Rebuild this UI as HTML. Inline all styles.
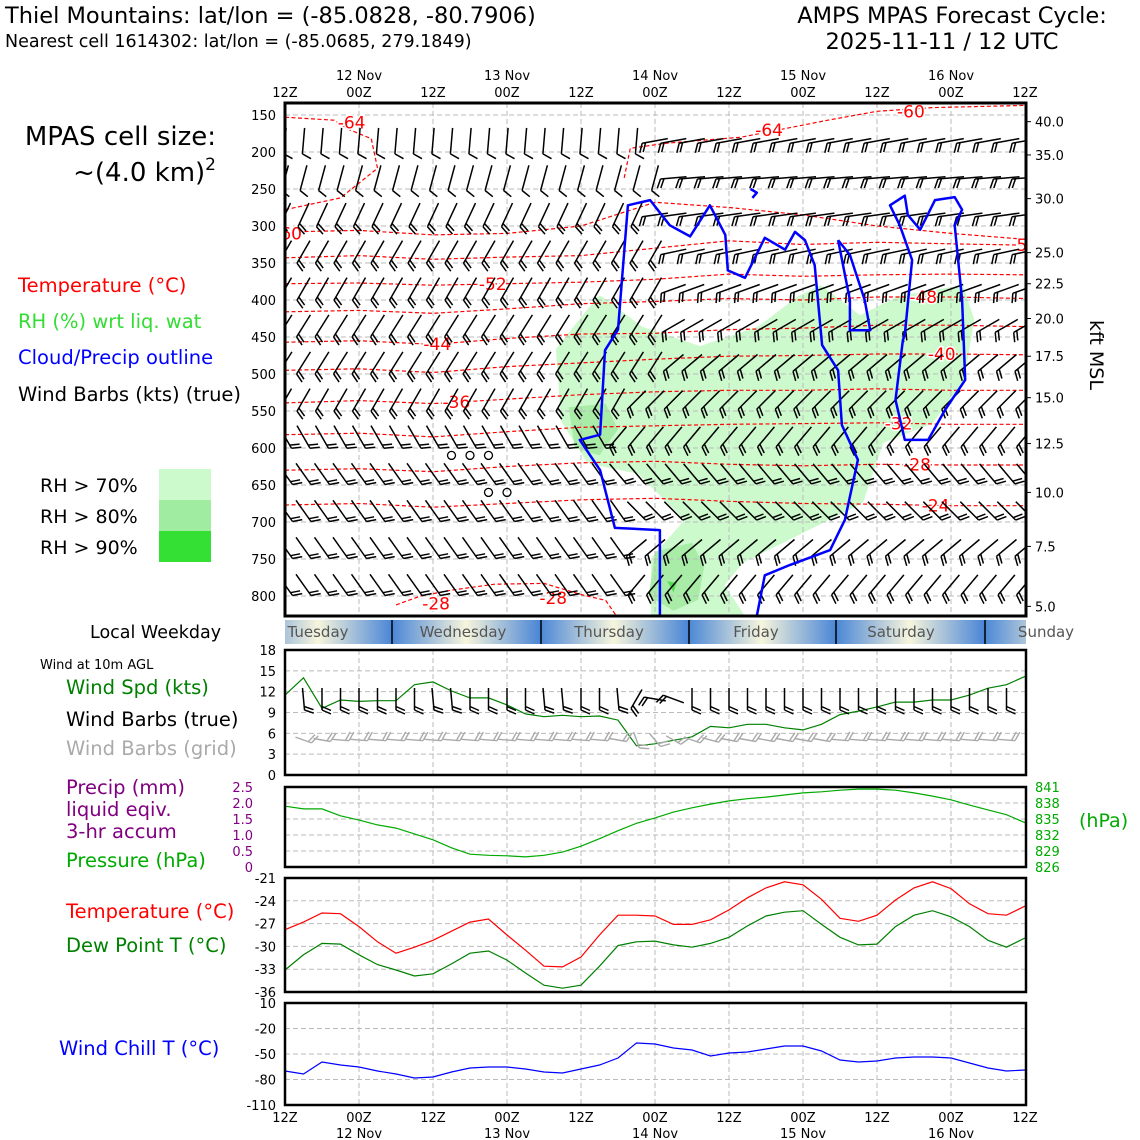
<!DOCTYPE html>
<html><head><meta charset="utf-8"><style>
html,body{margin:0;padding:0;background:#fff;}
svg{display:block;font-family:"DejaVu Sans","Liberation Sans",sans-serif;}
</style></head><body>
<svg id="chart" width="1140" height="1140" viewBox="0 0 1140 1140">
<defs>
<linearGradient id="dayGrad" gradientUnits="userSpaceOnUse" x1="244" y1="0" x2="1100" y2="0">
</linearGradient>
<clipPath id="mainClip"><rect x="285" y="103" width="741" height="513"/></clipPath>
</defs>
<text x="5" y="23" font-size="22.5">Thiel Mountains: lat/lon = (-85.0828, -80.7906)</text>
<text x="5" y="47" font-size="17.5">Nearest cell 1614302: lat/lon = (-85.0685, 279.1849)</text>
<text x="952" y="23" font-size="22.5" text-anchor="middle">AMPS MPAS Forecast Cycle:</text>
<text x="942" y="49" font-size="22.5" text-anchor="middle">2025-11-11 / 12 UTC</text>
<text x="216" y="145" font-size="26" text-anchor="end">MPAS cell size:</text>
<text x="216" y="181" font-size="26" text-anchor="end">~(4.0 km)<tspan font-size="17" dy="-11">2</tspan></text>
<text x="18" y="292" font-size="19.5" fill="#ff0000">Temperature (°C)</text>
<text x="18" y="328" font-size="19.5" fill="#33dd33">RH (%) wrt liq. wat</text>
<text x="18" y="364" font-size="19.5" fill="#0000ff">Cloud/Precip outline</text>
<text x="18" y="401" font-size="19.5" fill="#000">Wind Barbs (kts) (true)</text>
<text x="40" y="492" font-size="19">RH &gt; 70%</text>
<text x="40" y="523" font-size="19">RH &gt; 80%</text>
<text x="40" y="554" font-size="19">RH &gt; 90%</text>
<rect x="159" y="469" width="52" height="31" fill="#ccfacc"/>
<rect x="159" y="500" width="52" height="31" fill="#a0eca0"/>
<rect x="159" y="531" width="52" height="31" fill="#33e033"/>
<text x="90" y="638" font-size="17.5">Local Weekday</text>
<text x="40" y="669" font-size="13">Wind at 10m AGL</text>
<text x="66" y="694" font-size="19.5" fill="#008000">Wind Spd (kts)</text>
<text x="66" y="726" font-size="19.5" fill="#000">Wind Barbs (true)</text>
<text x="66" y="755" font-size="19.5" fill="#aaaaaa">Wind Barbs (grid)</text>
<text x="66" y="794" font-size="19.5" fill="#800080">Precip (mm)</text>
<text x="66" y="816" font-size="19.5" fill="#800080">liquid eqiv.</text>
<text x="66" y="838" font-size="19.5" fill="#800080">3-hr accum</text>
<text x="66" y="867" font-size="19.5" fill="#00aa00">Pressure (hPa)</text>
<text x="66" y="918" font-size="19.5" fill="#ff0000">Temperature (°C)</text>
<text x="66" y="952" font-size="19.5" fill="#008000">Dew Point T (°C)</text>
<text x="59" y="1055" font-size="19.5" fill="#0000ff">Wind Chill T (°C)</text>
<text x="1079" y="827" font-size="19" fill="#00aa00">(hPa)</text>
<text x="1090" y="355" font-size="19" transform="rotate(90 1090 355)" text-anchor="middle">kft MSL</text>
<g id="layer"></g>
</svg>
<script>
// ---------- data ----------
const timeHours = Array.from({length:41},(_,i)=>i*3);
const windSpd = [11.5,14,9.6,10.8,10.6,10.7,10.7,13,13.4,12.1,11.1,11.1,10.1,8.8,8.4,8.6,8.4,8.5,7.9,4.2,4.5,5,5.5,7,6.8,7.3,7.3,6.8,6.5,7.3,8.7,9.2,9.8,10.5,10.5,10.8,10.8,11.5,12.5,13,14.2];
const pressure = [837.4,836.9,836.9,835.6,834.8,833.9,833.3,832.2,831.1,829.6,828.4,828.2,828.1,827.9,828.2,828.8,829.9,831.3,832.8,834.2,835.2,836.3,837.1,837.8,838.4,838.8,839.1,839.5,839.9,840.1,840.4,840.6,840.6,840.4,839.9,839.3,838.6,837.6,836.7,835.8,834.3];
const temperature = [-27.8,-26.8,-25.6,-25.7,-27.4,-29.4,-30.9,-30.1,-29.2,-28,-26.8,-26.4,-28.5,-30.5,-32.6,-32.7,-31.4,-28.5,-25.9,-25.9,-26,-27.1,-27.1,-26.5,-25.2,-23.6,-22.3,-21.5,-21.9,-23.8,-26.3,-26.7,-25.9,-23.9,-22.3,-21.5,-22.4,-24.4,-25.7,-25.9,-24.7];
const dewpoint = [-33.1,-31.1,-29.6,-29.7,-31.1,-32.4,-33.1,-33.9,-33.6,-32.3,-30.9,-30.6,-31.8,-33.5,-35.1,-35.5,-35.1,-32.6,-29.9,-29.4,-29.3,-29.8,-30.1,-29.6,-28.8,-27.3,-26,-25.5,-25.3,-27.1,-28.8,-29.8,-29.7,-27.4,-25.9,-25.3,-26.1,-27.4,-29.2,-30.1,-28.9];
const windChill = [-70,-73.5,-59.4,-62.9,-65.3,-70,-73.5,-78.2,-77.1,-71.2,-66.5,-65.3,-65.3,-67.6,-71.2,-72.4,-67.6,-62.9,-54.7,-37,-38.2,-42.9,-45.3,-52.4,-48.8,-47.6,-44.1,-40.6,-40.6,-46.5,-57.1,-59.4,-58.2,-54.7,-53.5,-53.5,-54.7,-60.6,-66.5,-70,-68.8];
const sfcBarbAngle = [0,5,0,0,0,0,0,0,5,5,0,0,0,0,5,5,0,0,5,-30,-100,-110,0,0,0,0,0,0,0,0,0,0,0,0,0,0,0,0,0,0,0];
const gridBarbAngle = [60,70,80,85,85,85,85,85,85,85,85,85,85,85,85,85,85,85,80,20,40,60,70,75,80,80,80,80,80,80,85,85,85,85,85,85,85,85,85,85,85];
// upper-air barbs
const barbRowP = [185,235,285,335,385,435,485,535,585,635,685,735,785];
const rowAngleEarly = [-5,-15,-25,-30,-30,-32,-32,-30,30,35,35,35,35];
const rowAngleLate = [-80,-85,-82,-78,-70,-60,-50,-45,-40,40,45,-50,-40];
const rowSwitchCol = [20,21,20,21,21,21,21,19,18,18,19,19,19];
const rowTicksEarly = [1,1,2,2,2,2,2,2,2,2,2,2,2];
const rowTicksLate = [2,2,2,2,2,2,2,2,2,2,2,2,2];
const pTicks = [150,200,250,300,350,400,450,500,550,600,650,700,750,800];
const kftTicks = ["40.0","35.0","30.0","25.0","22.5","20.0","17.5","15.0","12.5","10.0","7.5","5.0"];
const kftP = [159,204,263,336,378,425,476,532,594,660,733,814];
// temperature contours: level, knots in hours, pressure at knots
const contourLevels = [-60,-56,-52,-48,-44,-40,-36,-32,-28,-24];
const contourHours = [0,12,24,36,48,60,72,84,96,108,120];
const contourP = [
 [308,306,312,310,300,268,275,285,300,310,318],
 [343,340,345,342,340,330,320,325,322,324,326],
 [378,377,380,378,376,372,365,368,366,365,366],
 [416,414,418,412,405,402,398,400,396,396,398],
 [457,455,460,452,446,445,440,438,434,434,436],
 [495,493,498,490,485,480,476,475,473,473,474],
 [539,536,540,534,528,524,522,522,520,522,522],
 [582,580,585,578,572,570,568,567,566,568,568],
 [630,628,632,625,620,618,622,624,622,623,623],
 [677,675,680,675,670,668,672,675,676,678,678]];
const contourLabelHours = [null,null,33.7,103.5,24.7,106.5,27.8,99.5,102.5,105.5];
const lowContourH = [18,22,27,34,42,48,52,54];
const lowContourP = [812,800,792,784,783,798,806,830];
const topContourH = [0,8,10.5,14,15,12,9,0];
const topContourP = [153,157,170,182,222,242,262,278];
const topContour2H = [55,56,62,74,88,96,105,120];
const topContour2P = [235,195,188,180,157,145,140,137];
// cloud outline (hours, hPa)
const cloudH = [60.8,60.8,53.5,51.1,47.8,51.1,51.9,54,55.6,59.2,62.4,65.7,68.9,71.4,71.8,74.6,77.8,81.1,82.7,84.3,85.9,87.1,89.7,90.3,92.9,90.8,88.4,81.9,77.8,76.5];
const cloudP = [827,711,708,630,589,582,468,440,272,265,299,314,272,312,360,370,316,332,308,319,353,461,495,569,616,697,738,758,772,827];
const cloud2H = [100.5,101.7,99.7,98.1,100.5,101,103,105.4,108.6,109.8,108.6,109.8,110.3,107,104.3,100.5,99,100.2,100.5];
const cloud2P = [447,346,299,272,259,285,305,265,261,278,299,400,508,549,589,589,535,454,447];
const cloud3H = [89.7,91.6,91.6,94.9,94,91.6,89.7];
const cloud3P = [319,400,441,441,400,339,319];
const cloud4H = [75.5,76.5,75.8];
const cloud4P = [250,255,262];
// RH regions (hours, hPa)
const rh70H = [44.6,51.1,57.6,67.3,77,83.5,86.8,93.2,99.7,109.5,111.1,109.5,104.6,96.5,93.2,86.8,80.3,73.8,70.5,73.8,60,60,65.7,57.6,49.5,45.4];
const rh70P = [468,400,441,468,441,400,386,427,400,386,427,508,562,589,670,697,724,751,785,827,827,751,697,630,616,562];
const rh80H = [46,52,54,51,47];
const rh80P = [545,540,575,610,600];
const rh80bH = [60,66,68,67,63,59];
const rh80bP = [740,728,760,805,820,800];
const rh90H = [62,63.5,63];
const rh90P = [780,782,795];

// ---------- scales ----------
const X = h => 285 + h*740/120;
const YP = p => 115 + (p-150)*0.74;
const YW = v => 775 - v*125/18;
const YPr = v => 867 - (v-826)*80/15;
const YT = v => 878 - (v+21)*114/15;
const YC = v => 1003 + (10-v)*102/120;
const NS="http://www.w3.org/2000/svg";
const layer=document.getElementById('layer');
function mk(tag,attrs,parent){const e=document.createElementNS(NS,tag);for(const k in attrs)e.setAttribute(k,attrs[k]);(parent||layer).appendChild(e);return e;}

// weekday gradient (blue at local midnight, pale at noon)
const grad=document.getElementById('dayGrad');
[["0","#4a86d6"],["0.0865","#f7f5dc"],["0.173","#4a86d6"],["0.2595","#f7f5dc"],["0.346","#4a86d6"],["0.432","#f7f5dc"],["0.519","#4a86d6"],["0.605","#f7f5dc"],["0.692","#4a86d6"],["0.778","#f7f5dc"],["0.865","#4a86d6"],["0.951","#f7f5dc"],["1","#c8d8ea"]].forEach(s=>{const st=document.createElementNS(NS,'stop');st.setAttribute('offset',s[0]);st.setAttribute('stop-color',s[1]);grad.appendChild(st);});
grad.setAttribute('x1',244);grad.setAttribute('x2',244+148*5.78);

// ---------- main panel ----------
const mainG=mk('g',{'clip-path':'url(#mainClip)'});


function poly(hs,ps,attrs,parent,closed){const pts=hs.map((h,i)=>X(h).toFixed(1)+','+YP(ps[i]).toFixed(1)).join(' ');return mk(closed?'polygon':'polyline',Object.assign({points:pts},attrs),parent);}
let e;
e=poly(rh70H,rh70P,{fill:'#ccfacc',stroke:'#ccfacc','stroke-width':8,'stroke-linejoin':'round'},mainG,true);


e=poly(rh80H,rh80P,{fill:'#a8eca8',stroke:'none'},mainG,true);


e=poly(rh80bH,rh80bP,{fill:'#a8eca8',stroke:'none'},mainG,true);


e=poly(rh90H,rh90P,{fill:'#55dd55',stroke:'none'},mainG,true);


// grid
pTicks.forEach(p=>{const l=mk('line',{x1:285,x2:1026,y1:YP(p),y2:YP(p),stroke:'#bbb','stroke-dasharray':'5,3'},mainG);

});
for(let h=12;h<120;h+=12){const l=mk('line',{x1:X(h),x2:X(h),y1:103,y2:616,stroke:'#bbb','stroke-dasharray':'5,3'},mainG);

}
// temperature contours
contourLevels.forEach((lv,i)=>{
 e=poly(contourHours,contourP[i],{fill:'none',stroke:'#ff0000','stroke-width':1.2,'stroke-dasharray':'4,2.5'},mainG);
 
 
 if(contourLabelHours[i]!==null){
  const h=contourLabelHours[i];const k=Math.min(9,Math.floor(h/12));const f=(h-contourHours[k])/12;const p=contourP[i][k]*(1-f)+contourP[i][k+1]*f;
  const t=mk('text',{x:X(h),y:YP(p)+6,'font-size':17,fill:'#ff0000','text-anchor':'middle',stroke:'#fff','stroke-width':3,'paint-order':'stroke'},mainG);t.textContent=String(lv);
  
  
 }
});
[[lowContourH,lowContourP],[topContourH,topContourP],[topContour2H,topContour2P]].forEach(c=>{
 e=poly(c[0],c[1],{fill:'none',stroke:'#ff0000','stroke-width':1.2,'stroke-dasharray':'4,2.5'},mainG);
 
 
});
[["-64",10.8,160],["-64",78.5,170],["-60",101.5,145],["-28",24.5,810],["-28",43.5,803],["-60",0.5,310],["5",119.5,326]].forEach(a=>{
 const t=mk('text',{x:X(a[1]),y:YP(a[2])+6,'font-size':17,fill:'#ff0000','text-anchor':'middle',stroke:'#fff','stroke-width':3,'paint-order':'stroke'},mainG);t.textContent=a[0];
 
 
});
// barbs
function barb(cx,cy,ang,ticks,L,col,w,parent){
 const r=ang*Math.PI/180;const dx=Math.sin(r),dy=Math.cos(r);
 const hx=cx-dx*L/2,hy=cy-dy*L/2,tx=cx+dx*L/2,ty=cy+dy*L/2;
 const px=Math.cos(r),py=-Math.sin(r);
 let d=`M${hx.toFixed(1)},${hy.toFixed(1)}L${tx.toFixed(1)},${ty.toFixed(1)}`;
 for(let k=0;k<ticks;k++){const bx=tx-dx*k*3.5,by=ty-dy*k*3.5;d+=`M${bx.toFixed(1)},${by.toFixed(1)}l${((px*0.9+dx*0.4)*10).toFixed(1)},${((py*0.9+dy*0.4)*10).toFixed(1)}`;}
 return mk('path',{d:d,stroke:col,'stroke-width':w,fill:'none'},parent);
}
barbRowP.forEach((p,r)=>{
 timeHours.forEach((h,c)=>{
  const late=c>=rowSwitchCol[r];
  const b=barb(X(h),YP(p),late?rowAngleLate[r]:rowAngleEarly[r],late?rowTicksLate[r]:rowTicksEarly[r],26,'#000',1.5,mainG);
  
  
 });
});
// calm circles
[[27,610],[30,610],[33,610],[33,660],[36,660]].forEach(a=>{const c=mk('circle',{cx:X(a[0]),cy:YP(a[1]),r:4,fill:'none',stroke:'#000','stroke-width':1.3},mainG);

});
// clouds
[[cloudH,cloudP],[cloud2H,cloud2P],[cloud3H,cloud3P],[cloud4H,cloud4P]].forEach(c=>{
 e=poly(c[0],c[1],{fill:'none',stroke:'#0000ff','stroke-width':2.5,'stroke-linejoin':'round'},mainG);
 
 
});
e=mk('rect',{x:285,y:103,width:741,height:513,fill:'none',stroke:'#000','stroke-width':3});


pTicks.forEach(p=>{const t=mk('text',{x:276,y:YP(p)+5,'font-size':13,'text-anchor':'end'});t.textContent=p;

});
kftTicks.forEach((k,i)=>{const y=YP(kftP[i]);mk('line',{x1:1026,x2:1031,y1:y,y2:y,stroke:'#000'});const t=mk('text',{x:1035,y:y+5,'font-size':13});t.textContent=k;

});
// time axes
const dateLabels=["12 Nov","13 Nov","14 Nov","15 Nov","16 Nov"];
for(let h=0;h<=120;h+=12){
 const lab=(h%24===0)?'12Z':'00Z';
 let t=mk('text',{x:X(h),y:97,'font-size':13,'text-anchor':'middle'});t.textContent=lab;
 
 
 t=mk('text',{x:X(h),y:1122,'font-size':13,'text-anchor':'middle'});t.textContent=lab;
 
 
 if(h%24===12){const d=dateLabels[(h-12)/24];
  t=mk('text',{x:X(h),y:80,'font-size':13,'text-anchor':'middle'});t.textContent=d;
  
  
  t=mk('text',{x:X(h),y:1138,'font-size':13,'text-anchor':'middle'});t.textContent=d;
  
  }
}
// weekday bar
e=mk('rect',{x:285,y:620,width:741,height:24,fill:'url(#dayGrad)'});


[392,541,689,836,985].forEach(x=>{const l=mk('line',{x1:x,x2:x,y1:620,y2:644,stroke:'#000','stroke-width':1.5});

});
[["Tuesday",318],["Wednesday",463],["Thursday",609],["Friday",756],["Saturday",901],["Sunday",1046]].forEach(a=>{const t=mk('text',{x:a[1],y:637,'font-size':15,fill:'#555','text-anchor':'middle'});t.textContent=a[0];

});

// ---------- lower panels ----------
function panel(name,y0,y1,ticks,yf,tickCol){
 ticks.forEach(v=>{const y=yf(v);mk('line',{x1:285,x2:1026,y1:y,y2:y,stroke:'#bbb','stroke-dasharray':'5,3'});
  const t=mk('text',{x:276,y:y+5,'font-size':13,'text-anchor':'end',fill:tickCol||'#000'});t.textContent=v;
  
  });
 for(let h=12;h<120;h+=12){mk('line',{x1:X(h),x2:X(h),y1:y0,y2:y1,stroke:'#bbb','stroke-dasharray':'5,3'});}
}
function frame(name,y0,y1){const r=mk('rect',{x:285,y:y0,width:741,height:y1-y0,fill:'none',stroke:'#000','stroke-width':2.5});
 
 }
function line(vals,yf,col,name){const pts=vals.map((v,i)=>X(timeHours[i]).toFixed(1)+','+yf(v).toFixed(1)).join(' ');
 const p=mk('polyline',{points:pts,fill:'none',stroke:col,'stroke-width':1.2});
 
 }
// wind
panel('wind-speed',650,775,[18,15,12,9,6,3,0],YW);
line(windSpd,YW,'#008000','wind-speed-line');
timeHours.forEach((h,i)=>{if(i===0||i===40)return;
 const b=barb(X(h),699,sfcBarbAngle[i],2,22,'#000',1.5);
 
 
 const g=barb(X(h),740,gridBarbAngle[i],2,17,'#aaaaaa',1.4);
 
 
});
frame('wind-panel',650,775);
// pressure
const precipTicks=["2.5","2.0","1.5","1.0","0.5","0"];
const presTicks=[841,838,835,832,829,826];
presTicks.forEach((v,i)=>{const y=YPr(v);mk('line',{x1:285,x2:1026,y1:y,y2:y,stroke:'#bbb','stroke-dasharray':'5,3'});
 let t=mk('text',{x:253,y:y+5,'font-size':13,'text-anchor':'end',fill:'#800080'});t.textContent=precipTicks[i];
 
 
 t=mk('text',{x:1035,y:y+5,'font-size':13,fill:'#00aa00'});t.textContent=v;
 
 });
for(let h=12;h<120;h+=12){mk('line',{x1:X(h),x2:X(h),y1:787,y2:867,stroke:'#bbb','stroke-dasharray':'5,3'});}
line(pressure,YPr,'#00aa00','pressure-line');
frame('pressure-panel',787,867);
// temperature
panel('temperature',878,992,[-21,-24,-27,-30,-33,-36],YT);
line(temperature,YT,'#ff0000','temperature-line');
line(dewpoint,YT,'#008000','dewpoint-line');
frame('temperature-panel',878,992);
// wind chill
panel('wind-chill',1003,1105,[10,-20,-50,-80,-110],YC);
line(windChill,YC,'#0000ff','wind-chill-line');
frame('wind-chill-panel',1003,1105);
</script>
</body></html>
